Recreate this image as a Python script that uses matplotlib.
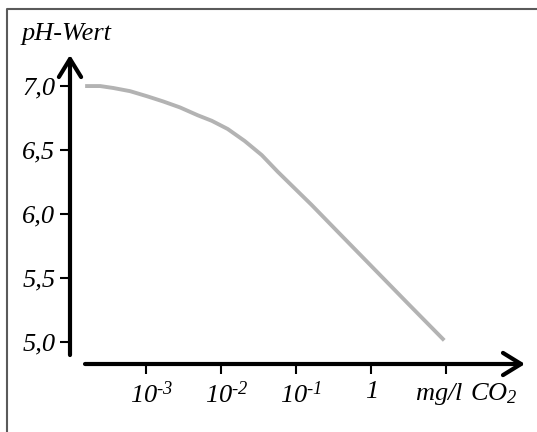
import numpy as np
import matplotlib
matplotlib.use("Agg")
import matplotlib.pyplot as plt
from matplotlib.lines import Line2D
from matplotlib.transforms import ScaledTranslation

plt.rcParams['font.family'] = ['Liberation Serif', 'DejaVu Serif']
plt.rcParams['font.style'] = 'italic'
plt.rcParams['mathtext.fontset'] = 'custom'
plt.rcParams['mathtext.rm'] = 'Liberation Serif:italic'
plt.rcParams['mathtext.it'] = 'Liberation Serif:italic'

# CO2 concentration (mg/l) and pH
co2 = [1.52e-4, 2.41e-4, 3.59e-4, 6.04e-4, 1.02e-3, 1.66e-3, 2.79e-3, 4.84e-3,
       7.43e-3, 0.0121, 0.0204, 0.0344, 0.0561, 0.0944, 0.159, 0.398, 1.0, 3.16, 9.33]
ph = [7.00, 7.00, 6.985, 6.96, 6.92, 6.88, 6.833, 6.771,
      6.728, 6.664, 6.57, 6.46, 6.33, 6.20, 6.07, 5.83, 5.59, 5.29, 5.01]

x_ticks = [1e-3, 1e-2, 1e-1, 1, 10]
x_labels = [r'$10^{\text{-}3}$', r'$10^{\text{-}2}$', r'$10^{\text{-}1}$', '1', r'$mg/l\;\,CO_2$']
y_ticks = [5.0, 5.5, 6.0, 6.5, 7.0]
y_labels = ['5,0', '5,5', '6,0', '6,5', '7,0']

W, H = 537, 432
fig = plt.figure(figsize=(W / 100, H / 100), dpi=100)
ax = fig.add_axes([70 / W, (H - 364) / H, 455 / W, (364 - 55) / H])

ax.plot(co2, ph, color='#b3b3b3', lw=2.8, solid_capstyle='butt', solid_joinstyle='round')

ax.set_xscale('log')
ax.set_xlim(10 ** -4.02, 10 ** 2.047)
ax.set_ylim(4.825, 7.243)
ax.minorticks_off()
ax.set_xticks(x_ticks)
ax.set_xticklabels(x_labels)
ax.set_yticks(y_ticks)
ax.set_yticklabels(y_labels)
ax.tick_params(direction='out', length=7.5, width=1.5, labelsize=19, color='black')
ax.tick_params(axis='y', pad=3)
ax.tick_params(axis='x', pad=5)
for s in ax.spines.values():
    s.set_visible(False)
ax.patch.set_visible(False)

# the labels sit a little right of their ticks in the original
shifts = [5, 5, 5, 0, 20]
for lab, dx in zip(ax.get_xticklabels(), shifts):
    lab.set_transform(lab.get_transform() + ScaledTranslation(dx / 100, 0, fig.dpi_scale_trans))

arrow = dict(arrowstyle='->,head_length=0.65,head_width=0.4', lw=3, color='black',
             mutation_scale=20, shrinkA=0, shrinkB=0)
ax.annotate('', xy=(0, 1), xytext=(0, 0.029), xycoords='axes fraction', arrowprops=arrow)
ax.annotate('', xy=(1, 0), xytext=(0.033, 0), xycoords='axes fraction', arrowprops=arrow)

fig.text(22 / W, 1 - 40 / H, 'pH-Wert', fontsize=19, va='baseline', ha='left')

# frame on the left and top
fig.add_artist(Line2D([7 / W, 7 / W, 1], [0, 1 - 9 / H, 1 - 9 / H],
                      transform=fig.transFigure, color='#5a5a5a', lw=1.5))

fig.savefig('out.png', dpi=100)
